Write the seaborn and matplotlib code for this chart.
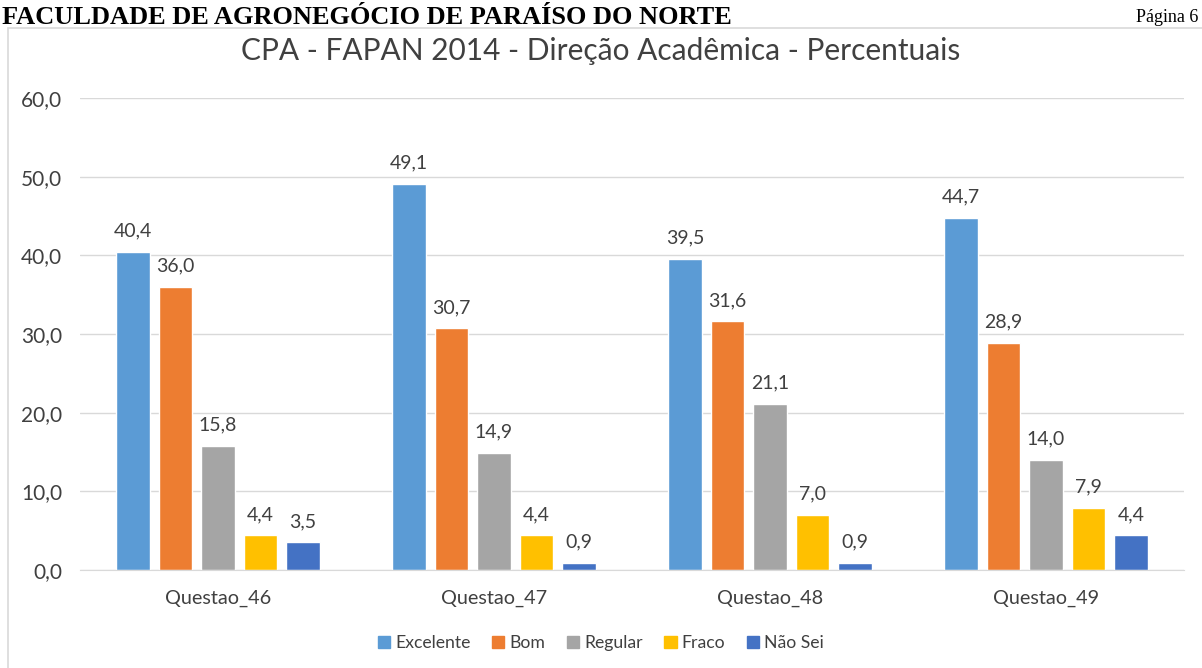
import matplotlib
matplotlib.use("Agg")
import matplotlib.pyplot as plt
from matplotlib.patches import Rectangle
import seaborn as sns
import pandas as pd

questoes = ["Questao_46", "Questao_47", "Questao_48", "Questao_49"]
respostas = ["Excelente", "Bom", "Regular", "Fraco", "Não Sei"]
excelente = [40.4, 49.1, 39.5, 44.7]
bom = [36.0, 30.7, 31.6, 28.9]
regular = [15.8, 14.9, 21.1, 14.0]
fraco = [4.4, 4.4, 7.0, 7.9]
nao_sei = [3.5, 0.9, 0.9, 4.4]
cores = ["#5B9BD5", "#ED7D31", "#A5A5A5", "#FFC000", "#4472C4"]

series = [excelente, bom, regular, fraco, nao_sei]
rows = []
for resp, vals in zip(respostas, series):
    for q, v in zip(questoes, vals):
        rows.append({"Questao": q, "Resposta": resp, "Valor": v})
df = pd.DataFrame(rows)

sns.set_style("white")
plt.rcParams["font.family"] = ["Lato", "DejaVu Sans"]

fig = plt.figure(figsize=(12.02, 6.68), dpi=100)
ax = fig.add_axes([80 / 1202, 98 / 668, 1104 / 1202, 472 / 668])

sns.barplot(data=df, x="Questao", y="Valor", hue="Resposta", hue_order=respostas,
            order=questoes, palette=cores, width=0.77, gap=0.22, ax=ax,
            legend=False, saturation=1)

for cont in ax.containers:
    ax.bar_label(cont, labels=[f"{b.get_height():.1f}".replace(".", ",") for b in cont],
                 padding=9, fontsize=14, color="#404040")

ax.set_ylim(0, 60)
ax.set_xlim(-0.5, 3.5)
ax.set_yticks(range(0, 61, 10))
ax.set_yticklabels([f"{t},0" for t in range(0, 61, 10)])
ax.tick_params(axis="y", labelsize=15, labelcolor="#404040", length=0, pad=13)
ax.tick_params(axis="x", labelsize=14.3, labelcolor="#404040", length=0, pad=14)
ax.grid(axis="y", color="#D9D9D9", linewidth=1)
ax.set_axisbelow(True)
for s in ["top", "right", "left"]:
    ax.spines[s].set_visible(False)
ax.spines["bottom"].set_color("#D9D9D9")
ax.set_xlabel("")
ax.set_ylabel("")

fig.text(0.5, 1 - 51 / 668, "CPA - FAPAN 2014 - Direção Acadêmica - Percentuais",
         ha="center", va="center", fontsize=21.5, color="#404040")

# chart frame and page header
fig.patches.append(Rectangle((8 / 1202, -0.01), 1.0, 1 - 28 / 668 + 0.01,
                             transform=fig.transFigure, fill=False,
                             edgecolor="#D9D9D9", linewidth=1.2))
fig.text(2 / 1202, 1 - 24 / 668, "FACULDADE DE AGRONEGÓCIO DE PARAÍSO DO NORTE",
         ha="left", va="baseline", fontsize=19, fontweight="bold",
         family=["Liberation Serif", "DejaVu Serif"], color="black")
fig.text(1 - 4 / 1202, 1 - 22 / 668, "Página 6", ha="right", va="baseline",
         fontsize=13, family=["Liberation Serif", "DejaVu Serif"], color="black")

handles = [Rectangle((0, 0), 1, 1, color=c) for c in cores]
fig.legend(handles, respostas, loc="center", bbox_to_anchor=(0.5, 1 - 643 / 668),
           ncol=5, frameon=False, fontsize=12.7, handlelength=0.7, handleheight=0.7,
           handletextpad=0.3, columnspacing=1.2, labelcolor="#404040")

fig.savefig("out.png", dpi=100)
